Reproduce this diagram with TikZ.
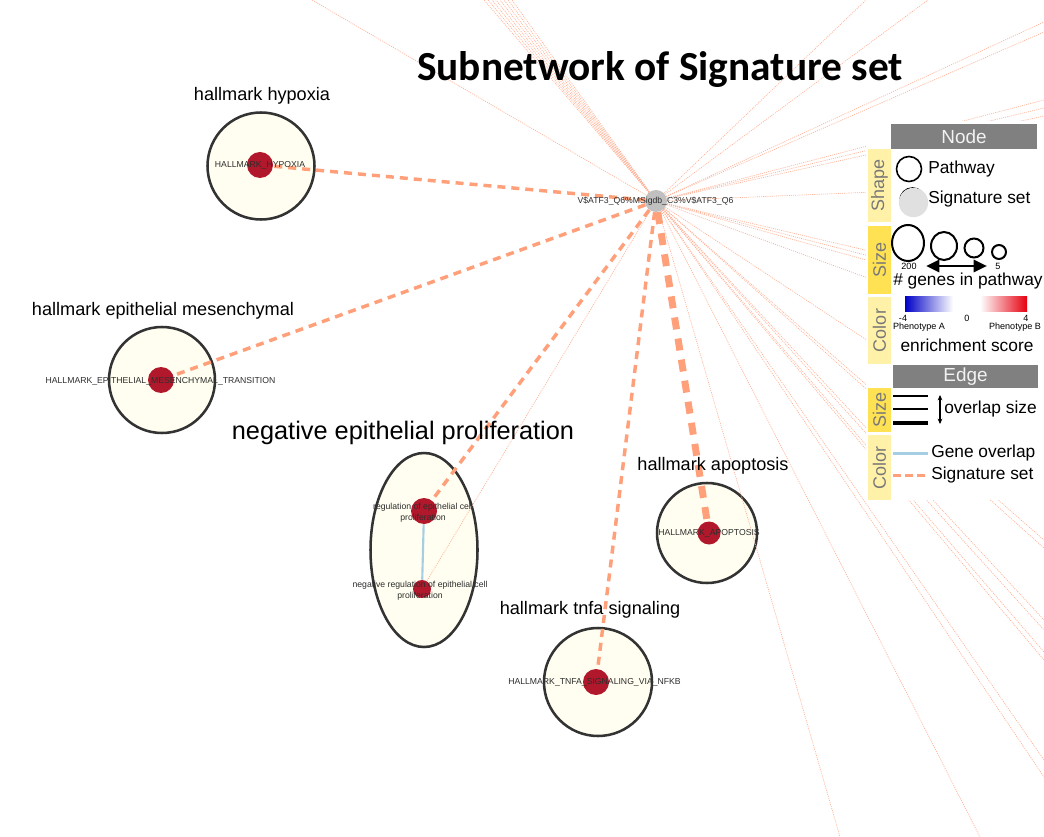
\documentclass[tikz,border=0pt]{standalone}
\usepackage{fontspec}
\setmainfont{Liberation Sans}
\newfontfamily\titlefont{Carlito}
\usetikzlibrary{arrows.meta,shapes.geometric}
\pgfdeclarelayer{bgA}
\pgfdeclarelayer{bgB}
\pgfsetlayers{bgA,bgB,main}
\definecolor{salmon}{RGB}{255,160,122}
\definecolor{thinsalmon}{RGB}{255,178,150}
\definecolor{cream}{RGB}{255,254,240}
\definecolor{rednode}{RGB}{178,24,43}
\definecolor{edgeblue}{RGB}{166,206,227}
\definecolor{rimgray}{RGB}{51,51,51}
\definecolor{lbltext}{RGB}{45,45,45}
\definecolor{hdrgray}{RGB}{128,128,128}
\definecolor{hdrtext}{RGB}{242,242,242}
\definecolor{tabpale}{RGB}{255,242,168}
\definecolor{tabgold}{RGB}{255,226,84}
\definecolor{tabtext}{RGB}{120,120,120}
\definecolor{sigfill}{RGB}{192,192,192}
\definecolor{sigleg}{RGB}{224,224,224}
\definecolor{phA}{RGB}{0,0,200}
\definecolor{phB}{RGB}{230,0,16}
\newcommand{\fsz}[2]{\fontsize{#1pt}{#2pt}\selectfont}
\begin{document}
\begin{tikzpicture}[x=0.75pt,y=-0.75pt,
  pathway/.style={circle, draw=rimgray, line width=1.9pt, fill=cream, inner sep=0pt},
  redn/.style={circle, fill=rednode, inner sep=0pt},
  signode/.style={circle, fill=sigfill, inner sep=0pt, minimum size=16.5pt},
  tinylbl/.style={text=lbltext, font=\fsz{6.5}{8.2}, inner sep=0pt, align=center},
  caption/.style={font=\fsz{13.6}{16}, inner sep=0pt},
  bigcaption/.style={font=\fsz{19}{22}, inner sep=0pt},
  sigedge/.style={draw=salmon, line width=2.6pt, dash pattern=on 6pt off 4.5pt},
  sigthick/.style={draw=salmon, line width=5.2pt, dash pattern=on 9pt off 7pt},
  thinedge/.style={draw=thinsalmon, line width=0.5pt, dash pattern=on 0.8pt off 0.8pt},
  hdr/.style={rectangle, fill=hdrgray, text=hdrtext, inner sep=0pt, font=\fsz{14.2}{16}},
  tabp/.style={rectangle, fill=tabpale, text=tabtext, inner sep=0pt, rotate=90, minimum height=17.25pt, font=\fsz{13.5}{15}},
  tabg/.style={rectangle, fill=tabgold, text=tabtext, inner sep=0pt, rotate=90, minimum height=17.25pt, font=\fsz{13.5}{15}},
  legtxt/.style={inner sep=0pt, anchor=west, font=\fsz{13}{15}},
  legsmall/.style={inner sep=0pt, font=\fsz{6.8}{8}},
  sizeell/.style={ellipse, draw=black, line width=1.5pt, inner sep=0pt}
]
\useasboundingbox (0,0) rectangle (1044,837);

% ---------- pathway groups (bottom layer) ----------
\begin{pgfonlayer}{bgA}
\fill[white] (0,0) rectangle (1044,837);
\node[pathway, minimum size=80.25pt] (hyp) at (261,166) {};
\node[pathway, minimum size=79.5pt] (epi) at (162,380) {};
\node[pathway, ellipse, minimum width=80.25pt, minimum height=145.5pt] (negG) at (424,550) {};
\node[pathway, minimum size=75pt] (apo) at (707,533) {};
\node[pathway, minimum size=81pt] (tnf) at (598,682) {};
\end{pgfonlayer}

% ---------- nodes ----------
\node[signode] (c) at (656,201) {};
\node[redn, minimum size=19.5pt] (hypR) at (260,165) {};
\node[redn, minimum size=19.5pt] (epiR) at (161,380) {};
\node[redn, minimum size=19.5pt] (regR) at (424,511) {};
\node[redn, minimum size=13.5pt] (negR) at (422,589) {};
\node[redn, minimum size=17.25pt] (apoR) at (709,533) {};
\node[redn, minimum size=19.5pt] (tnfR) at (596,682) {};

% ---------- edges ----------
\begin{pgfonlayer}{bgB}
\foreach \px/\py [count=\i] in {312/0,484/0,488/0,492/0,496/0,500/0,504/0,508/0,512/0,
  866/0,928/0,1044/22,1044/32,1044/100,1044/108,1044/116,
  1044/185,1044/292,1044/301,1044/310,1044/342,1044/457,
  1044/540,1044/548,1044/620,1044/630,1044/652,1044/660,
  1044/760,1044/777,980/837,840/837}
  {\coordinate (t\i) at (\px,\py);}
\foreach \i in {1,...,32} {\draw[thinedge] (c) -- (t\i);}
\draw[thinedge] (c) -- (negR);
\draw[edgeblue, line width=1.6pt] (regR) -- (negR);
\draw[sigedge] (c) -- (hypR);
\draw[sigedge] (c) -- (epiR);
\draw[sigedge] (c) -- (regR);
\draw[sigedge] (c) -- (tnfR);
\draw[sigthick] (c) -- (apoR);
\end{pgfonlayer}

% ---------- labels ----------
\node[tinylbl] (cL) at (655.5,201) {V\$ATF3\_Q6\%MSigdb\_C3\%V\$ATF3\_Q6};
\node[tinylbl] (hypL) at (260,165) {HALLMARK\_HYPOXIA};
\node[tinylbl] (epiL) at (160.5,381) {HALLMARK\_EPITHELIAL\_MESENCHYMAL\_TRANSITION};
\node[tinylbl] (regL) at (423,512.5) {regulation of epithelial cell\\proliferation};
\node[tinylbl] (negL) at (420,590.5) {negative regulation of epithelial cell\\proliferation};
\node[tinylbl] (apoL) at (709,533) {HALLMARK\_APOPTOSIS};
\node[tinylbl] (tnfL) at (594.5,682) {HALLMARK\_TNFA\_SIGNALING\_VIA\_NFKB};

\node[caption] (hypC) at (262,96) {hallmark hypoxia};
\node[caption] (epiC) at (163,311) {hallmark epithelial mesenchymal};
\node[bigcaption] (negC) at (403,433) {negative epithelial proliferation};
\node[caption] (apoC) at (713,466) {hallmark apoptosis};
\node[caption] (tnfC) at (590,610) {hallmark tnfa signaling};

\node[inner sep=0pt, font=\titlefont\bfseries\fsz{31}{36}] (title) at (660,70) {Subnetwork of Signature set};

% ---------- legend ----------
\fill[white] (866,121) rectangle (1044,500);
\node[hdr, minimum width=109.5pt, minimum height=18.75pt] (nodeH) at (964,136.5) {Node};
\node[tabp, minimum width=54.75pt] (tabShape) at (879.5,185.5) {Shape};
\node[tabg, minimum width=51pt] (tabSize) at (879.5,260) {Size};
\node[tabp, minimum width=50.25pt] (tabColor) at (879.5,330.5) {Color};
\node[hdr, minimum width=108.75pt, minimum height=17.25pt] (edgeH) at (965.5,376.5) {Edge};
\node[tabg, minimum width=33pt] (tabESize) at (879.5,410) {Size};
\node[tabp, minimum width=48.75pt] (tabEColor) at (879.5,467.5) {Color};

\node[circle, draw=black, line width=1.2pt, minimum size=18.75pt, inner sep=0pt] (legPath) at (909,169) {};
\node[legtxt] (legPathT) at (928,169) {Pathway};
\node[circle, draw=black, line width=1pt, minimum size=19pt, inner sep=0pt] (legSigRim) at (912.5,200.5) {};
\node[circle, fill=sigleg, minimum size=22pt, inner sep=0pt] (legSig) at (913.5,202.5) {};
\node[legtxt] (legSigT) at (928,199) {Signature set};

\node[sizeell, minimum width=24pt, minimum height=27pt] (sz1) at (908,243) {};
\node[sizeell, minimum width=19.5pt, minimum height=21pt] (sz2) at (944,246) {};
\node[sizeell, minimum width=14.25pt, minimum height=14.25pt] (sz3) at (974,248) {};
\node[sizeell, minimum width=10.5pt, minimum height=10.5pt] (sz4) at (999,252) {};
\node[legsmall] (n200) at (909,266) {200};
\node[legsmall] (n5) at (998,266) {5};
\coordinate (arL) at (926,266);
\coordinate (arR) at (987,266);
\draw[line width=2.2pt, {Triangle[length=10pt,width=9pt]}-{Triangle[length=10pt,width=9pt]}] (arL) -- (arR);
\node[legtxt] (genesT) at (893,281) {\# genes in pathway};

\node[rectangle, minimum width=36pt, minimum height=11.25pt, inner sep=0pt, left color=phA, right color=white, draw=none] (barA) at (929,304.5) {};
\node[rectangle, minimum width=35.25pt, minimum height=11.25pt, inner sep=0pt, left color=white, right color=phB, draw=none] (barB) at (1003.5,304.5) {};
\node[legsmall] (m4) at (903,318) {-4};
\node[legsmall] (z0) at (967,318) {0};
\node[legsmall] (p4) at (1026,318) {4};
\node[legsmall] (phAT) at (919,327) {Phenotype A};
\node[legsmall] (phBT) at (1015,327) {Phenotype B};
\node[inner sep=0pt, font=\fsz{13}{15}] (enrT) at (967,345) {enrichment score};

\coordinate (e1a) at (893,396); \coordinate (e1b) at (928,396);
\coordinate (e2a) at (893,409); \coordinate (e2b) at (928,409);
\coordinate (e3a) at (893,423); \coordinate (e3b) at (928,423);
\draw[line width=0.9pt] (e1a) -- (e1b);
\draw[line width=1.9pt] (e2a) -- (e2b);
\draw[line width=3pt] (e3a) -- (e3b);
\coordinate (vaT) at (940,395); \coordinate (vaB) at (940,424);
\draw[line width=0.8pt, {Stealth[length=4pt,width=3.5pt]}-{Stealth[length=4pt,width=3.5pt]}] (vaT) -- (vaB);
\node[legtxt] (ovT) at (944,409) {overlap size};

\coordinate (goA) at (893,453); \coordinate (goB) at (928,453);
\draw[edgeblue, line width=2.25pt] (goA) -- (goB);
\node[legtxt] (goT) at (931,453) {Gene overlap};
\coordinate (ssA) at (893,475); \coordinate (ssB) at (928,475);
\draw[salmon, line width=2.25pt, dash pattern=on 6pt off 3pt] (ssA) -- (ssB);
\node[legtxt] (ssT) at (931,475) {Signature set};
\end{tikzpicture}
\end{document}
